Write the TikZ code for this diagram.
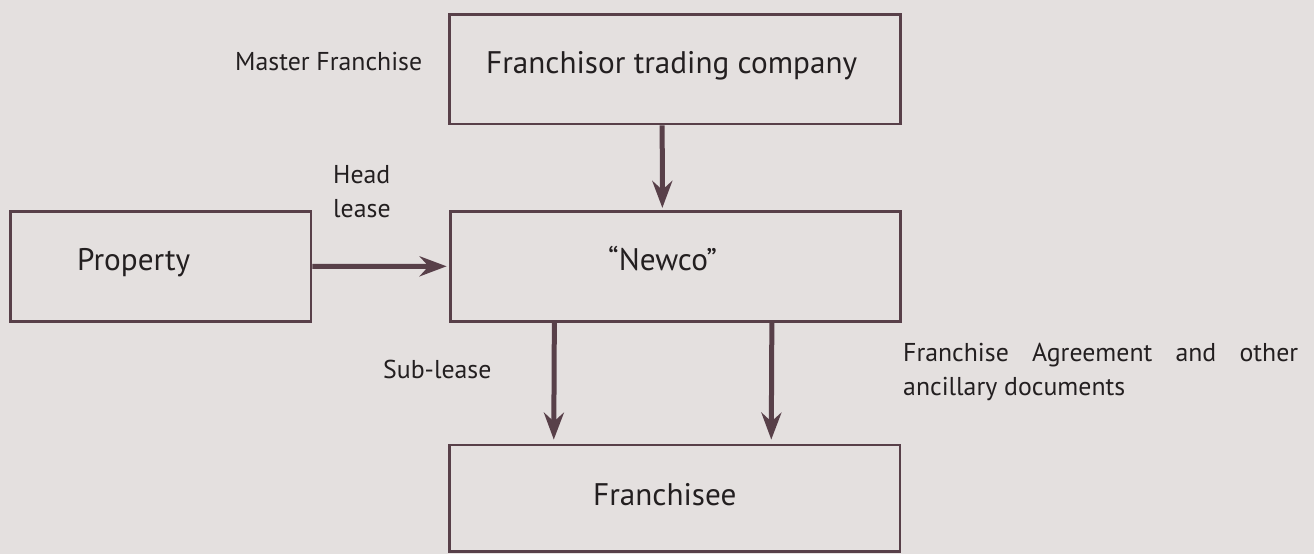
\documentclass[tikz,border=0pt]{standalone}
\usepackage{fontspec}
\setmainfont{PT Sans}
\usetikzlibrary{arrows.meta}

\definecolor{bgcol}{HTML}{E4E0DF}
\definecolor{linecol}{HTML}{584049}
\definecolor{txtcol}{HTML}{231F20}

\tikzset{
  box/.style={draw=linecol,line width=2.8pt,rectangle,inner sep=0pt},
  arr/.style={draw=linecol,line width=5pt,-{Stealth[length=27pt,width=20pt,inset=9pt]}},
  bigtxt/.style={anchor=base west,inner sep=0pt,text=txtcol,font=\fontsize{31.2}{36}\selectfont},
  smalltxt/.style={anchor=base west,inner sep=0pt,text=txtcol,align=left,font=\fontsize{25.8}{34}\selectfont}
}

\begin{document}
\begin{tikzpicture}[x=1pt,y=-1pt]
      \fill[bgcol] (0,0) rectangle (1314,554);
      \useasboundingbox (0,0) rectangle (1314,554);

      % boxes
      \node[box,minimum width=451,minimum height=109.5] (franchisor) at (675.2,69.25) {};
      \node[box,minimum width=449.7,minimum height=110] (newco) at (675.35,266.3) {};
      \node[box,minimum width=300.5,minimum height=110.2] (property) at (160.75,266.4) {};
      \node[box,minimum width=450.5,minimum height=106.5] (franchisee) at (674.75,498.25) {};

      % box texts
      \node[bigtxt] (franchisortext) at (486,73) {Franchisor trading company};
      \node[bigtxt] (newcotext) at (608,270) {“Newco”};
      \node[bigtxt] (propertytext) at (77,270) {Property};
      \node[bigtxt] (franchiseetext) at (593,505) {Franchisee};

      % labels
      \node[smalltxt] (masterlabel) at (235,70) {Master Franchise};
      \node[smalltxt] (headlabel) at (333,217) {Head\\lease};
      \node[smalltxt] (sublabel) at (383,378) {Sub-lease};
      \node[smalltxt,text width=395pt,align=justify] (agreelabel) at (903,361)
        {Franchise Agreement and other\linebreak ancillary documents};

      % connectors
      \draw[arr,shorten >=2pt] ([xshift=-13pt]franchisor.south) -- ([xshift=-13pt]newco.north);
      \draw[arr,shorten >=2.5pt] (property.east) -- (newco.west);
      \draw[arr,shorten >=4pt] ([xshift=-121pt]newco.south) -- ([xshift=-121pt]franchisee.north);
      \draw[arr,shorten >=4pt] ([xshift=96.5pt]newco.south) -- ([xshift=96.5pt]franchisee.north);
\end{tikzpicture}
\end{document}
